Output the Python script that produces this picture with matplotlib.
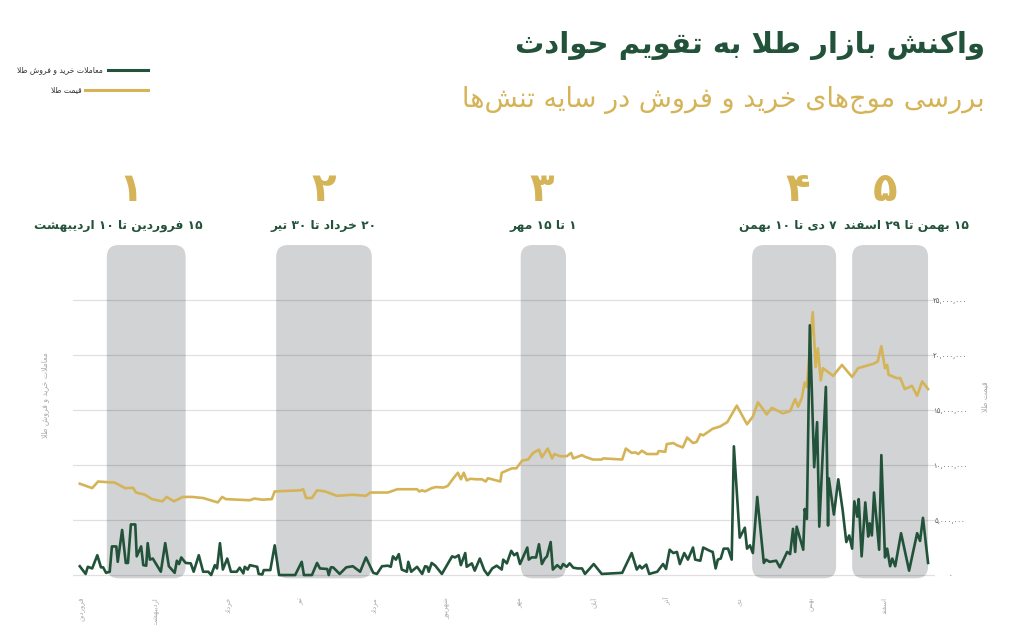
import re
import matplotlib
matplotlib.use('Agg')
import matplotlib.pyplot as plt
from matplotlib.patches import FancyBboxPatch
from matplotlib.lines import Line2D
from matplotlib.transforms import blended_transform_factory

# ---- data (x = months from start of year, y = million rial) ----
months = ['فروردین', 'اردیبهشت', 'خرداد', 'تیر', 'مرداد', 'شهریور',
          'مهر', 'آبان', 'آذر', 'دی', 'بهمن', 'اسفند']

price_x = [-0.03, 0.14, 0.22, 0.45, 0.59, 0.70, 0.74, 0.86, 0.96, 1.10,
           1.16, 1.26, 1.38, 1.51, 1.66, 1.86, 1.92, 1.97, 2.30, 2.36,
           2.47, 2.60, 2.64, 2.99, 3.03, 3.07, 3.15, 3.22, 3.33, 3.49,
           3.71, 3.89, 3.95, 4.19, 4.32, 4.59, 4.62, 4.66, 4.70, 4.79,
           4.85, 4.95, 5.01, 5.10, 5.15, 5.19, 5.23, 5.27, 5.32, 5.41,
           5.48, 5.53, 5.56, 5.62, 5.73, 5.75, 5.82, 5.89, 5.95, 6.03,
           6.11, 6.18, 6.26, 6.30, 6.38, 6.44, 6.47, 6.55, 6.64, 6.70,
           6.73, 6.85, 6.89, 7.00, 7.12, 7.14, 7.40, 7.45, 7.49, 7.53,
           7.58, 7.62, 7.67, 7.74, 7.88, 7.90, 7.99, 8.01, 8.10, 8.15,
           8.23, 8.29, 8.37, 8.42, 8.47, 8.51, 8.64, 8.74, 8.84, 8.97,
           9.11, 9.19, 9.26, 9.38, 9.45, 9.60, 9.70, 9.77, 9.81, 9.86,
           9.90, 9.93, 9.97, 10.01, 10.05, 10.08, 10.12, 10.15, 10.29, 10.41,
           10.55, 10.63, 10.84, 10.90, 10.95, 11.00, 11.03, 11.05, 11.16, 11.21,
           11.27, 11.37, 11.44, 11.51, 11.59]
price_y = [8.3, 7.9, 8.5, 8.4, 7.9, 7.93, 7.5, 7.3, 6.9, 6.7,
           7.1, 6.7, 7.1, 7.1, 7.0, 6.6, 7.1, 6.9, 6.8, 6.95,
           6.85, 6.9, 7.6, 7.7, 7.8, 7.0, 7.0, 7.7, 7.6, 7.2,
           7.3, 7.2, 7.5, 7.5, 7.8, 7.8, 7.6, 7.7, 7.6, 7.9,
           8.0, 7.95, 8.1, 8.9, 9.3, 8.7, 9.3, 8.6, 8.75, 8.7,
           8.7, 8.5, 8.8, 8.7, 8.5, 9.3, 9.5, 9.7, 9.7, 10.4,
           10.5, 11.1, 11.4, 10.7, 11.5, 10.6, 11.0, 10.8, 10.8, 11.1,
           10.6, 10.9, 10.75, 10.5, 10.5, 10.6, 10.5, 11.5, 11.3, 11.1,
           11.15, 11.0, 11.3, 11.0, 11.0, 11.27, 11.2, 11.9, 12.0, 11.8,
           11.6, 12.5, 12.0, 12.1, 12.8, 12.7, 13.3, 13.5, 13.9, 15.4,
           13.7, 14.4, 15.7, 14.6, 15.2, 14.7, 14.9, 16.0, 15.3, 16.1,
           17.5, 17.1, 20.7, 23.9, 18.9, 20.6, 17.7, 18.8, 18.1, 19.1,
           18.0, 18.8, 19.2, 19.4, 20.8, 18.8, 19.1, 18.2, 17.9, 17.9,
           16.9, 17.2, 16.3, 17.6, 16.9]

trade_x = [-0.03, 0.05, 0.08, 0.14, 0.21, 0.26, 0.29, 0.33, 0.38, 0.41,
           0.47, 0.49, 0.55, 0.60, 0.63, 0.67, 0.73, 0.75, 0.81, 0.84,
           0.88, 0.90, 0.93, 0.97, 1.08, 1.14, 1.19, 1.27, 1.30, 1.33,
           1.36, 1.42, 1.49, 1.53, 1.60, 1.66, 1.73, 1.77, 1.82, 1.85,
           1.89, 1.93, 1.99, 2.04, 2.12, 2.16, 2.21, 2.23, 2.27, 2.30,
           2.40, 2.42, 2.47, 2.49, 2.58, 2.64, 2.70, 2.92, 3.01, 3.04,
           3.15, 3.22, 3.26, 3.36, 3.38, 3.41, 3.44, 3.53, 3.62, 3.71,
           3.81, 3.89, 3.99, 4.04, 4.11, 4.19, 4.23, 4.26, 4.30, 4.34,
           4.38, 4.45, 4.47, 4.51, 4.59, 4.66, 4.70, 4.73, 4.75, 4.79,
           4.84, 4.93, 5.07, 5.11, 5.16, 5.19, 5.25, 5.27, 5.34, 5.38,
           5.45, 5.51, 5.56, 5.62, 5.68, 5.75, 5.77, 5.82, 5.88, 5.92,
           5.96, 6.00, 6.10, 6.12, 6.16, 6.22, 6.26, 6.30, 6.34, 6.37,
           6.42, 6.45, 6.51, 6.56, 6.59, 6.64, 6.68, 6.73, 6.79, 6.85,
           6.89, 7.01, 7.12, 7.40, 7.53, 7.60, 7.64, 7.67, 7.73, 7.77,
           7.88, 7.96, 8.00, 8.05, 8.10, 8.15, 8.19, 8.25, 8.30, 8.37,
           8.40, 8.47, 8.51, 8.60, 8.64, 8.68, 8.71, 8.75, 8.79, 8.85,
           8.90, 8.93, 9.01, 9.08, 9.11, 9.15, 9.19, 9.25, 9.34, 9.37,
           9.42, 9.51, 9.56, 9.66, 9.70, 9.74, 9.77, 9.79, 9.88, 9.90,
           9.93, 9.97, 10.03, 10.07, 10.10, 10.19, 10.22, 10.23, 10.30, 10.36,
           10.42, 10.47, 10.51, 10.55, 10.58, 10.62, 10.64, 10.68, 10.73, 10.77,
           10.79, 10.82, 10.85, 10.92, 10.95, 11.00, 11.03, 11.07, 11.10, 11.14,
           11.22, 11.33, 11.44, 11.48, 11.52, 11.59]
trade_y = [0.8, 0.1, 0.75, 0.6, 1.8, 0.7, 0.7, 0.2, 0.3, 2.6,
           2.6, 1.2, 4.1, 1.1, 1.1, 4.6, 4.6, 1.7, 2.6, 0.9,
           0.85, 2.9, 1.4, 1.5, 0.3, 2.9, 0.8, 0.2, 1.3, 1.0,
           1.6, 1.1, 1.06, 0.3, 1.8, 0.3, 0.3, 0.0, 0.9, 0.6,
           2.9, 0.5, 1.5, 0.3, 0.3, 0.67, 0.15, 0.75, 0.5, 0.9,
           0.75, 0.1, 0.05, 0.45, 0.45, 2.7, 0.0, 0.0, 1.2, 0.0,
           0.0, 1.1, 0.6, 0.55, 0.0, 0.7, 0.7, 0.1, 0.7, 0.8,
           0.3, 1.6, 0.2, 0.1, 0.8, 0.85, 0.75, 1.7, 1.4, 1.9,
           0.5, 0.3, 1.2, 0.3, 0.75, 0.1, 0.8, 0.75, 0.3, 1.1,
           0.85, 0.1, 1.7, 1.6, 1.8, 0.9, 2.0, 0.75, 1.06, 0.4,
           1.5, 0.45, 0.0, 0.6, 0.85, 0.5, 1.4, 1.06, 2.2, 1.8,
           2.0, 1.0, 2.5, 1.4, 1.6, 1.6, 2.8, 1.0, 1.5, 1.7,
           3.0, 0.5, 0.9, 0.6, 1.0, 0.75, 1.06, 0.67, 0.6, 0.6,
           0.1, 1.0, 0.1, 0.2, 2.0, 0.5, 0.85, 0.6, 0.95, 0.1,
           0.3, 1.0, 0.55, 2.3, 2.0, 2.1, 1.0, 2.0, 1.4, 2.5,
           1.4, 1.3, 2.5, 2.2, 2.1, 0.6, 1.4, 1.5, 2.4, 2.4,
           1.4, 11.7, 3.4, 4.3, 2.4, 2.7, 2.0, 7.1, 1.1, 1.4,
           1.2, 1.3, 0.7, 2.1, 1.9, 4.2, 2.1, 4.4, 2.3, 6.0,
           5.1, 22.7, 9.8, 13.9, 4.4, 17.1, 4.5, 8.8, 5.5, 8.7,
           5.9, 3.0, 3.6, 2.4, 6.7, 5.3, 6.9, 1.7, 6.6, 3.5,
           4.7, 3.6, 7.5, 2.3, 10.9, 1.6, 2.4, 0.8, 1.5, 0.8,
           3.8, 0.4, 3.8, 3.1, 5.2, 1.1]

event_start = [0.34, 2.66, 6.01, 9.18, 10.55]
event_end = [1.42, 3.97, 6.63, 10.33, 11.59]
event_nums = ['۱', '۲', '۳', '۴', '۵']
event_names = ['۱۵ فروردین تا ۱۰ اردیبهشت', '۲۰ خرداد تا ۳۰ تیر', '۱ تا ۱۵ مهر',
               '۷ دی تا ۱۰ بهمن', '۱۵ بهمن تا ۲۹ اسفند']
price_ticks = [0, 5, 10, 15, 20, 25]

GREEN = '#22533a'
GOLD = '#d5b457'
BAND = '#d1d3d5'

# ---- minimal persian shaping (matplotlib has no bidi / joining) ----
FORMS = {
    0x0627: (0xFE8D, 0xFE8E), 0x0622: (0xFE81, 0xFE82),
    0x0628: (0xFE8F, 0xFE90, 0xFE91, 0xFE92), 0x067E: (0xFB56, 0xFB57, 0xFB58, 0xFB59),
    0x062A: (0xFE95, 0xFE96, 0xFE97, 0xFE98), 0x062B: (0xFE99, 0xFE9A, 0xFE9B, 0xFE9C),
    0x062C: (0xFE9D, 0xFE9E, 0xFE9F, 0xFEA0), 0x0686: (0xFB7A, 0xFB7B, 0xFB7C, 0xFB7D),
    0x062D: (0xFEA1, 0xFEA2, 0xFEA3, 0xFEA4), 0x062E: (0xFEA5, 0xFEA6, 0xFEA7, 0xFEA8),
    0x062F: (0xFEA9, 0xFEAA), 0x0630: (0xFEAB, 0xFEAC), 0x0631: (0xFEAD, 0xFEAE),
    0x0632: (0xFEAF, 0xFEB0), 0x0698: (0xFB8A, 0xFB8B),
    0x0633: (0xFEB1, 0xFEB2, 0xFEB3, 0xFEB4), 0x0634: (0xFEB5, 0xFEB6, 0xFEB7, 0xFEB8),
    0x0635: (0xFEB9, 0xFEBA, 0xFEBB, 0xFEBC), 0x0636: (0xFEBD, 0xFEBE, 0xFEBF, 0xFEC0),
    0x0637: (0xFEC1, 0xFEC2, 0xFEC3, 0xFEC4), 0x0638: (0xFEC5, 0xFEC6, 0xFEC7, 0xFEC8),
    0x0639: (0xFEC9, 0xFECA, 0xFECB, 0xFECC), 0x063A: (0xFECD, 0xFECE, 0xFECF, 0xFED0),
    0x0641: (0xFED1, 0xFED2, 0xFED3, 0xFED4), 0x0642: (0xFED5, 0xFED6, 0xFED7, 0xFED8),
    0x06A9: (0xFB8E, 0xFB8F, 0xFB90, 0xFB91), 0x0643: (0xFB8E, 0xFB8F, 0xFB90, 0xFB91),
    0x06AF: (0xFB92, 0xFB93, 0xFB94, 0xFB95), 0x0644: (0xFEDD, 0xFEDE, 0xFEDF, 0xFEE0),
    0x0645: (0xFEE1, 0xFEE2, 0xFEE3, 0xFEE4), 0x0646: (0xFEE5, 0xFEE6, 0xFEE7, 0xFEE8),
    0x0648: (0xFEED, 0xFEEE), 0x0647: (0xFEE9, 0xFEEA, 0xFEEB, 0xFEEC),
    0x06CC: (0xFBFC, 0xFBFD, 0xFBFE, 0xFBFF), 0x064A: (0xFBFC, 0xFBFD, 0xFBFE, 0xFBFF),
}
LAM_ALEF = {0x0627: (0xFEFB, 0xFEFC), 0x0622: (0xFEF5, 0xFEF6)}


def fa(text):
    codes = [ord(c) for c in text]
    out = []
    i = 0
    while i < len(codes):
        c = codes[i]
        prev = codes[i - 1] if i > 0 else 0
        link_prev = prev in FORMS and len(FORMS[prev]) == 4
        if c == 0x0644 and i + 1 < len(codes) and codes[i + 1] in LAM_ALEF:
            lig = LAM_ALEF[codes[i + 1]]
            out.append(chr(lig[1] if link_prev else lig[0]))
            i += 2
            continue
        if c not in FORMS:
            if c != 0x200C:
                out.append(chr(c))
            i += 1
            continue
        f = FORMS[c]
        nxt = codes[i + 1] if i + 1 < len(codes) else 0
        link_next = len(f) == 4 and nxt in FORMS
        if link_prev and link_next:
            out.append(chr(f[3]))
        elif link_prev:
            out.append(chr(f[1]))
        elif link_next:
            out.append(chr(f[2]))
        else:
            out.append(chr(f[0]))
        i += 1
    s = ''.join(out)[::-1]
    return re.sub(r'[0-9۰-۹,]+', lambda m: m.group(0)[::-1], s)


def fa_num(n):
    return f'{n:,}'.translate(str.maketrans('0123456789', '۰۱۲۳۴۵۶۷۸۹'))


plt.rcParams['font.family'] = ['DejaVu Sans']

W, H = 1024, 625
fig = plt.figure(figsize=(W / 100, H / 100), dpi=100)
fig.patch.set_facecolor('white')

ax_rect = [73 / W, 1 - 590 / H, (935 - 73) / W, (590 - 245) / H]
ax = fig.add_axes(ax_rect)
xlim = (-0.123, 11.685)
ylim = (-1.36, 30.0)
ax.set_xlim(*xlim)
ax.set_ylim(*ylim)

# aspect so rounded band corners are circular on screen
px_x = (xlim[1] - xlim[0]) / (ax_rect[2] * W)
px_y = (ylim[1] - ylim[0]) / (ax_rect[3] * H)
radius = 12 * px_x
for s, e in zip(event_start, event_end):
    band = FancyBboxPatch((s, -0.3), e - s, ylim[1] + 0.3,
                          boxstyle=f'round,pad=0,rounding_size={radius}',
                          mutation_aspect=px_y / px_x,
                          fc=BAND, ec='none', zorder=0, clip_on=False)
    ax.add_patch(band)

ax.plot(price_x, price_y, color=GOLD, lw=1.9, zorder=3, solid_joinstyle='round')
ax.plot(trade_x, trade_y, color=GREEN, lw=1.9, zorder=4, solid_joinstyle='round')

ax.grid(axis='y', color='black', alpha=0.12, lw=0.9)
ax.set_axisbelow(True)
for sp in ax.spines.values():
    sp.set_visible(False)

ax.yaxis.tick_right()
ax.set_yticks(price_ticks, [fa_num(v * 1000000) for v in price_ticks])
ax.tick_params(axis='y', length=0, pad=11, labelsize=5, labelcolor='#555555')
for lbl in ax.get_yticklabels():
    lbl.set_horizontalalignment('center')

ax.set_xticks(range(len(months)), [fa(m) for m in months], rotation=90)
ax.tick_params(axis='x', length=0, pad=5, labelsize=5, labelcolor='#aaaaaa')

# axis titles
fig.text(45 / W, 1 - 395 / H, fa('معاملات خرید و فروش طلا'), rotation=90,
         ha='center', va='center', fontsize=5.5, color='#aaaaaa')
fig.text(985 / W, 1 - 397 / H, fa('قیمت طلا'), rotation=90,
         ha='center', va='center', fontsize=5.5, color='#aaaaaa')

# event numbers and names above each band
trans = blended_transform_factory(ax.transData, fig.transFigure)
num_dx = [-16, 0, -2, 4, -5]
name_dx = [-28, 0, 0, -6, 16]
for k in range(len(event_nums)):
    xc = (event_start[k] + event_end[k]) / 2
    ax.annotate(event_nums[k], xy=(xc, 1 - 190 / H), xycoords=trans,
                xytext=(num_dx[k], 0), textcoords='offset pixels',
                ha='center', va='center', fontsize=29, fontweight='bold', color=GOLD)
    ax.annotate(fa(event_names[k]), xy=(xc, 1 - 226 / H), xycoords=trans,
                xytext=(name_dx[k], 0), textcoords='offset pixels',
                ha='center', va='center', fontsize=8.8, fontweight='bold', color=GREEN)

# title block
fig.text(985 / W, 1 - 45 / H, fa('واکنش بازار طلا به تقویم حوادث'),
         ha='right', va='center', fontsize=21, fontweight='bold', color=GREEN)
fig.text(985 / W, 1 - 100 / H, fa('بررسی موج‌های خرید و فروش در سایه تنش‌ها'),
         ha='right', va='center', fontsize=19.5, color=GOLD)

# legend (text on the left, line on the right)
fig.add_artist(Line2D([108 / W, 148 / W], [1 - 70 / H] * 2, color=GREEN, lw=2.2))
fig.add_artist(Line2D([85 / W, 148 / W], [1 - 90 / H] * 2, color=GOLD, lw=2.2))
fig.text(103 / W, 1 - 70 / H, fa('معاملات خرید و فروش طلا'), ha='right', va='center',
         fontsize=5.5, color='#333333')
fig.text(82 / W, 1 - 90 / H, fa('قیمت طلا'), ha='right', va='center',
         fontsize=5.5, color='#333333')

fig.savefig('out.png', dpi=100)
